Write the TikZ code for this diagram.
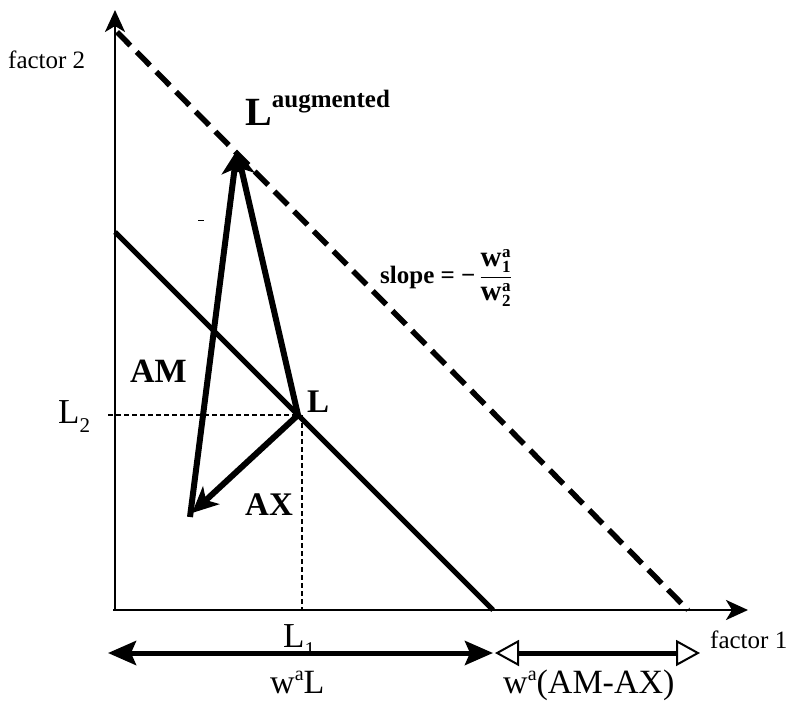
\documentclass[tikz,border=0pt]{standalone}
\usepackage{fontspec}
\setmainfont{Liberation Serif}
\usetikzlibrary{arrows.meta}
\newcommand\myfs[1]{\fontsize{#1}{#1}\selectfont}
\newcommand\wsub[1]{\mbox{\myfs{29}\bfseries w\kern0.5pt\raisebox{-6pt}{\myfs{17}\bfseries\shortstack[l]{a\\#1}}}}
\begin{document}
\begin{tikzpicture}[x=1pt,y=-1pt,
  axisline/.style={line width=2.6pt,-{Stealth[length=22pt,width=20pt,inset=6pt]}},
  budget/.style={line width=5pt},
  dashbudget/.style={line width=5.5pt,dash pattern=on 19pt off 9pt},
  guide/.style={line width=1.3pt,dash pattern=on 5pt off 3pt},
  vec/.style={line width=6pt,-{Stealth[length=26pt,width=24pt,inset=7pt]}},
  dimfill/.style={line width=5pt,{Stealth[length=28pt,width=24pt,inset=5pt]}-{Stealth[length=28pt,width=24pt,inset=5pt]}},
  dimopen/.style={line width=5pt,{Triangle[open,length=24pt,width=26pt,line width=2pt]}-{Triangle[open,length=24pt,width=26pt,line width=2pt]}},
  lbl/.style={inner sep=0pt,anchor=base west},
]
\useasboundingbox (0,0) rectangle (790,702);
% coordinates
\coordinate (O) at (115,610);
\coordinate (Ytip) at (115,10);
\coordinate (Xstart) at (113,610);
\coordinate (Xtip) at (748,610);
\coordinate (D1) at (117,32);
\coordinate (D2) at (688,610);
\coordinate (S1) at (115,232);
\coordinate (S2) at (493,610);
\coordinate (L) at (298,415);
\coordinate (Laug) at (237,150);
\coordinate (M) at (190,517);
\coordinate (AXtip) at (192,513);
\coordinate (H1) at (108,415);
\coordinate (V1) at (302,415);
\coordinate (V2) at (302,610);
\coordinate (B1) at (108,653);
\coordinate (B2) at (493,653);
\coordinate (B3) at (495,653);
\coordinate (B4) at (700,653);
% guides
\draw[guide] (H1) -- (L);
\draw[guide] (V1) -- (V2);
% axes
\draw[axisline] (O) -- (Ytip);
\draw[axisline] (Xstart) -- (Xtip);
% budget lines
\draw[dashbudget] (D1) -- (D2);
\draw[budget] (S1) -- (S2);
% vectors
\draw[vec] (M) -- (Laug);
\draw[vec] (L) -- (Laug);
\draw[vec] (L) -- (AXtip);
% tiny mark
\draw[line width=1pt] (198,220) -- (204,220);
% labels
\node[lbl] (f2) at (8,68) {\myfs{25}factor 2};
\node[lbl] (f1) at (710,648) {\myfs{25}factor 1};
\node[lbl] (laug) at (245,125) {\myfs{40}\bfseries L\raisebox{18pt}{\myfs{25}augmented}};
\node[lbl] (lpt) at (307,412) {\myfs{33}\bfseries L};
\node[lbl] (am) at (130,382) {\myfs{34}\bfseries AM};
\node[lbl] (ax) at (245,515) {\myfs{33}\bfseries AX};
\node[lbl] (slope) at (380,283) {\myfs{25}\bfseries slope = −\,$\displaystyle\frac{\wsub{1}}{\wsub{2}}$};
\node[lbl] (l2) at (58,423) {\myfs{35}L\raisebox{-9pt}{\myfs{21}2}};
\node[lbl] (l1) at (283,647) {\myfs{35}L\raisebox{-9pt}{\myfs{21}1}};
\node[lbl] (wal) at (270,693) {\myfs{34}w\raisebox{13pt}{\myfs{20}a}L};
\node[lbl] (wam) at (503,693) {\myfs{34}w\raisebox{13pt}{\myfs{20}a}(AM-AX)};
% dimension arrows (drawn over L1)
\draw[dimfill] (B1) -- (B2);
\draw[dimopen] (B3) -- (B4);
\end{tikzpicture}
\end{document}
